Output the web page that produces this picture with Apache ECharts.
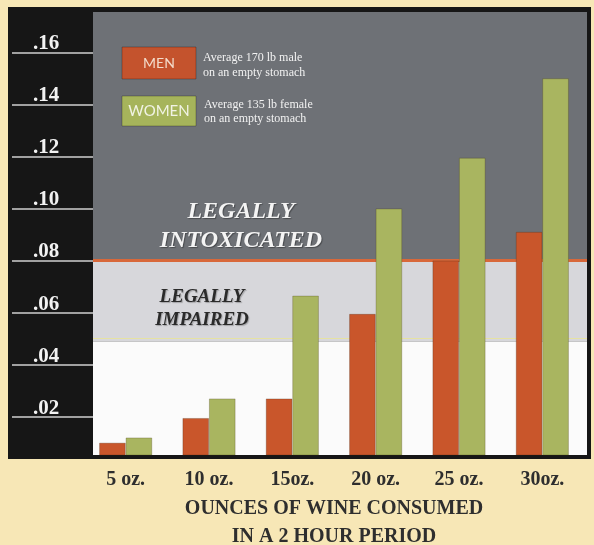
<!DOCTYPE html>
<html><head><meta charset="utf-8">
<script src="https://cdn.jsdelivr.net/npm/echarts@6/dist/echarts.min.js"></script>
<style>html,body{margin:0;padding:0;background:#f7e7b6;}#c{width:594px;height:545px;}</style>
</head><body><div id="c"></div>
<script>
// ---- data ----
const categories = ['5 oz.', '10 oz.', '15oz.', '20 oz.', '25 oz.', '30oz.'];
const seriesNames = ['MEN', 'WOMEN'];
const seriesNotes = [['Average 170 lb male', 'on an empty stomach'], ['Average 135 lb female', 'on an empty stomach']];
const menValues = [0.010, 0.0195, 0.027, 0.0595, 0.080, 0.091];
const womenValues = [0.012, 0.027, 0.0665, 0.100, 0.1195, 0.150];
const yTickValues = [0.02, 0.04, 0.06, 0.08, 0.10, 0.12, 0.14, 0.16];
const yTickLabels = ['.02', '.04', '.06', '.08', '.10', '.12', '.14', '.16'];
const yRange = [0.0053, 0.1755];
const impairedLevel = 0.049;
const intoxicatedLevel = 0.08;
const zoneImpaired = 'LEGALLY\nIMPAIRED';
const zoneIntoxicated = 'LEGALLY\nINTOXICATED';
const axisTitle = 'OUNCES OF WINE CONSUMED\nIN A 2 HOUR PERIOD';

// ---- styles ----
const SERIF = '"Liberation Serif","DejaVu Serif",serif';
const C_MEN = '#c9562b', C_WOMEN = '#a9b560';

const chart = echarts.init(document.getElementById('c'), null, {renderer: 'canvas'});
chart.setOption({
  backgroundColor: '#f7e7b6',
  animation: false,
  grid: [
    {left: 93, right: 7, top: 12, bottom: 90, outerBoundsMode: 'none', containLabel: false},
    {left: 84, right: 10, top: 12, bottom: 90, outerBoundsMode: 'none', containLabel: false},
    {left: 12, right: 501, top: 52.4, bottom: 128.3, outerBoundsMode: 'none', containLabel: false}
  ],
  xAxis: [
    {gridIndex: 0, type: 'value', min: 0, max: 1, show: false},
    {gridIndex: 1, type: 'category', data: categories,
      axisLine: {show: false}, axisTick: {show: false},
      axisLabel: {color: '#2e2e2e', fontFamily: SERIF, fontWeight: 'bold', fontSize: 20, margin: 15},
      name: axisTitle, nameLocation: 'middle', nameGap: 40,
      nameTextStyle: {color: '#2e2e2e', fontFamily: SERIF, fontWeight: 'bold', fontSize: 20, lineHeight: 28}
    },
    {gridIndex: 2, type: 'value', min: 0, max: 1, show: false}
  ],
  yAxis: [
    {gridIndex: 0, type: 'value', min: yRange[0], max: yRange[1], show: false},
    {gridIndex: 1, type: 'value', min: yRange[0], max: yRange[1], show: false},
    {gridIndex: 2, type: 'value', min: 0.02, max: 0.16, interval: 0.02,
      axisLine: {show: false}, axisTick: {show: false},
      splitLine: {show: true, lineStyle: {color: '#d0d0d0', width: 1.5}},
      axisLabel: {inside: true, margin: 21, color: '#f2f2f2', fontFamily: SERIF, fontWeight: 'bold',
        fontSize: 21, verticalAlign: 'bottom', lineHeight: 17,
        formatter: v => {
          let best = 0;
          yTickValues.forEach((t, i) => { if (Math.abs(t - v) < Math.abs(yTickValues[best] - v)) best = i; });
          return yTickLabels[best];
        }}
    }
  ],
  series: [
    {type: 'line', xAxisIndex: 0, yAxisIndex: 0, data: [], silent: true, z: 0,
      markArea: {silent: true, data: [
        [{yAxis: yRange[0], itemStyle: {color: '#fbfbfb'}}, {yAxis: impairedLevel}],
        [{yAxis: impairedLevel, itemStyle: {color: '#d7d7db'},
          label: {show: true, formatter: zoneImpaired, position: [109, 48], align: 'center', verticalAlign: 'middle',
            color: '#2a2a2a', fontFamily: SERIF, fontStyle: 'italic', fontWeight: 'bold', fontSize: 19, lineHeight: 23,
            textShadowColor: 'rgba(0,0,0,0.25)', textShadowBlur: 1, textShadowOffsetX: 1, textShadowOffsetY: 1}},
         {yAxis: intoxicatedLevel}],
        [{yAxis: intoxicatedLevel, itemStyle: {color: '#6e7176'},
          label: {show: true, formatter: zoneIntoxicated, position: [148, 214], align: 'center', verticalAlign: 'middle',
            color: '#f4f4f4', fontFamily: SERIF, fontStyle: 'italic', fontWeight: 'bold', fontSize: 24, lineHeight: 29,
            textShadowColor: 'rgba(0,0,0,0.35)', textShadowBlur: 1, textShadowOffsetX: 1, textShadowOffsetY: 1}},
         {yAxis: yRange[1]}]
      ]},
      markLine: {silent: true, symbol: 'none', label: {show: false}, data: [
        {yAxis: intoxicatedLevel, lineStyle: {color: '#d8683a', width: 3, type: 'solid'}},
        {yAxis: impairedLevel, lineStyle: {color: '#e6e2a2', width: 1, type: 'solid'}}
      ]}
    },
    {name: seriesNames[0], type: 'bar', xAxisIndex: 1, yAxisIndex: 1, data: menValues, z: 5,
      barWidth: 26.5, barGap: '0%', itemStyle: {color: C_MEN, borderColor: 'rgba(70,40,20,0.35)', borderWidth: 0.8}},
    {name: seriesNames[1], type: 'bar', xAxisIndex: 1, yAxisIndex: 1, data: womenValues, z: 5,
      barWidth: 26.5, barGap: '0%', itemStyle: {color: C_WOMEN, borderColor: 'rgba(70,60,20,0.35)', borderWidth: 0.8}}
  ],
  graphic: [
    {type: 'rect', z: -10, silent: true, shape: {x: 8, y: 7, width: 583, height: 452}, style: {fill: '#161616'}},
    {type: 'rect', z: 100, shape: {x: 122, y: 47, width: 74, height: 32},
      style: {fill: '#c4532d', stroke: 'rgba(0,0,0,0.25)', lineWidth: 1}},
    {type: 'text', z: 101, x: 159, y: 63, style: {text: seriesNames[0], fill: '#f3dccb',
      font: '14px Lato, "Open Sans", sans-serif', textAlign: 'center', textVerticalAlign: 'middle'}},
    {type: 'rect', z: 100, shape: {x: 122, y: 96, width: 74, height: 30},
      style: {fill: '#a6b45b', stroke: 'rgba(0,0,0,0.25)', lineWidth: 1}},
    {type: 'text', z: 101, x: 159, y: 111, style: {text: seriesNames[1], fill: '#f1f3e4',
      font: '15px Lato, "Open Sans", sans-serif', textAlign: 'center', textVerticalAlign: 'middle'}},
    {type: 'text', z: 101, x: 203, y: 50, style: {text: seriesNotes[0].join('\n'), fill: '#f2f2f2',
      font: '12px "Liberation Serif", serif', lineHeight: 15}},
    {type: 'text', z: 101, x: 204, y: 98, style: {text: seriesNotes[1].join('\n'), fill: '#f2f2f2',
      font: '12px "Liberation Serif", serif', lineHeight: 14}}
  ]
});
</script></body></html>
